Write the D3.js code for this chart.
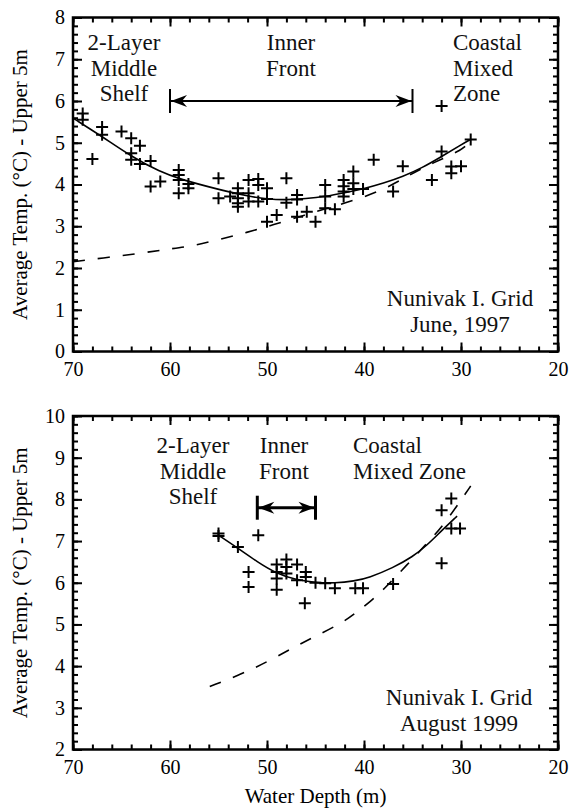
<!DOCTYPE html>
<html>
<head>
<meta charset="utf-8">
<script src="https://cdn.jsdelivr.net/npm/d3@7"></script>
</head>
<body style="margin:0;background:#fff">
<script>
// depth ticks and temperature ticks
const depthTicks = [70, 60, 50, 40, 30, 20]
const depthMinor = d3.range(70, 19, -2)
const juneTicks = [0, 1, 2, 3, 4, 5, 6, 7, 8]
const augTicks = [2, 3, 4, 5, 6, 7, 8, 9, 10]

// June 1997 stations: [depth, temp]
const juneObs = [
  [69.0, 5.70], [69.0, 5.55], [68.0, 4.61], [67.0, 5.38], [67.0, 5.19], [65.0, 5.27],
  [64.0, 5.11], [63.1, 4.93], [64.0, 4.75], [64.0, 4.59], [63.1, 4.49], [62.0, 4.56],
  [62.0, 3.95], [61.0, 4.07], [59.1, 4.35], [59.1, 4.23], [59.1, 4.11], [59.1, 3.79],
  [58.1, 4.01], [58.1, 3.91], [55.0, 4.15], [55.0, 3.67], [53.8, 3.71], [53.0, 3.91],
  [53.0, 3.79], [53.0, 3.67], [53.0, 3.55], [53.0, 3.47], [51.9, 4.11], [51.9, 3.79],
  [51.9, 3.59], [50.9, 4.13], [50.9, 3.99], [50.9, 3.59], [50.0, 3.91], [50.0, 3.65],
  [50.0, 3.11], [49.0, 3.27], [48.0, 4.15], [48.0, 3.56], [46.9, 3.75], [46.9, 3.64],
  [46.9, 3.23], [45.9, 3.35], [45.0, 3.11], [44.0, 3.99], [44.0, 3.71], [44.0, 3.43],
  [43.0, 3.41], [42.1, 4.11], [42.1, 3.96], [42.1, 3.83], [42.1, 3.71], [41.1, 4.31],
  [41.1, 4.03], [41.1, 3.89], [40.1, 3.89], [39.0, 4.59], [37.0, 3.83], [36.0, 4.44],
  [33.0, 4.11], [32.0, 5.88], [32.0, 4.79], [31.0, 4.43], [31.0, 4.27], [30.0, 4.44],
  [29.0, 5.08]
]
const juneFit = [
  [70, 5.59], [67, 5.15], [64, 4.67], [61, 4.30], [59, 4.13], [55, 3.88], [52, 3.72],
  [50, 3.65], [48, 3.63], [46, 3.66], [44, 3.71], [42, 3.80], [40, 3.90], [38, 4.03],
  [36, 4.19], [34, 4.40], [32, 4.67], [30, 4.95], [29, 5.08]
]
const juneModel = [
  [70, 2.15], [66.2, 2.26], [63.1, 2.35], [60.3, 2.45], [57.6, 2.53], [54.8, 2.69],
  [52.1, 2.85], [49.4, 3.03], [46.1, 3.27], [43.5, 3.45], [40.9, 3.63], [38.0, 3.87],
  [35.3, 4.23], [32.9, 4.52], [29.8, 4.83], [29.0, 5.05]
]

// August 1999 stations
const augObs = [
  [55.0, 7.18], [55.0, 7.12], [53.0, 6.86], [50.9, 7.14], [51.9, 6.26], [51.9, 5.90],
  [49.0, 6.44], [49.0, 6.26], [49.0, 6.10], [49.0, 5.83], [48.0, 6.56], [48.0, 6.38],
  [48.0, 6.22], [46.9, 6.44], [46.9, 6.06], [46.0, 6.26], [46.0, 6.14], [46.1, 5.51],
  [45.0, 6.00], [44.0, 5.99], [43.0, 5.87], [40.9, 5.87], [40.1, 5.87], [37.0, 5.97],
  [32.0, 7.74], [32.0, 6.47], [31.0, 8.02], [31.0, 7.30], [30.1, 7.30]
]
const augFit = [
  [55, 7.14], [53, 6.83], [51, 6.50], [49, 6.22], [47, 6.07], [45, 6.00], [43, 5.99],
  [41, 6.04], [39.5, 6.12], [37, 6.36], [35, 6.62], [33.5, 6.90], [32, 7.25], [30.4, 7.60]
]
const augModel = [
  [55.9, 3.51], [52.8, 3.79], [49.9, 4.11], [47.1, 4.47], [44.7, 4.75], [42.1, 5.06],
  [40.9, 5.27], [39.4, 5.54], [38.0, 5.83], [35.6, 6.42], [33.5, 6.95], [31.8, 7.38],
  [29.9, 8.02], [29.0, 8.32]
]

const FONT = 'Liberation Serif'

const svg = d3.select('body').append('svg')
  .attr('width', 571).attr('height', 808)
  .attr('font-family', FONT)
  .style('display', 'block')

const x = d3.scaleLinear().domain([70, 20]).range([73, 558])

function panel(cfg) {
  const y = d3.scaleLinear().domain(cfg.domain).range([cfg.bottom, cfg.top])
  const g = svg.append('g')
  const minorY = d3.range(cfg.domain[0], cfg.domain[1] + 0.01, 0.2).map(v => +v.toFixed(1))

  // bottom axis with labels
  g.append('g').attr('transform', `translate(0,${cfg.bottom})`)
    .call(d3.axisBottom(x).tickValues(depthTicks).tickSize(-9).tickPadding(10))
  g.append('g').attr('transform', `translate(0,${cfg.bottom})`)
    .call(d3.axisBottom(x).tickValues(depthMinor).tickSize(-5).tickFormat(''))
  // top mirror
  g.append('g').attr('transform', `translate(0,${cfg.top})`)
    .call(d3.axisTop(x).tickValues(depthTicks).tickSize(-9).tickFormat(''))
  g.append('g').attr('transform', `translate(0,${cfg.top})`)
    .call(d3.axisTop(x).tickValues(depthMinor).tickSize(-5).tickFormat(''))
  // left axis with labels
  g.append('g').attr('transform', `translate(${x(70)},0)`)
    .call(d3.axisLeft(y).tickValues(cfg.ticks).tickSize(-9).tickPadding(8).tickFormat(d3.format('d')))
  g.append('g').attr('transform', `translate(${x(70)},0)`)
    .call(d3.axisLeft(y).tickValues(minorY).tickSize(-5).tickFormat(''))
  // right mirror
  g.append('g').attr('transform', `translate(${x(20)},0)`)
    .call(d3.axisRight(y).tickValues(cfg.ticks).tickSize(-9).tickFormat(''))
  g.append('g').attr('transform', `translate(${x(20)},0)`)
    .call(d3.axisRight(y).tickValues(minorY).tickSize(-5).tickFormat(''))
  g.selectAll('.domain').remove()
  g.selectAll('.tick text').attr('font-family', FONT).attr('font-size', 20).attr('fill', '#000')
  g.selectAll('.tick line').attr('stroke', '#000').attr('stroke-width', 2)

  g.append('rect')
    .attr('x', x(70)).attr('y', cfg.top)
    .attr('width', x(20) - x(70)).attr('height', cfg.bottom - cfg.top)
    .attr('fill', 'none').attr('stroke', '#000').attr('stroke-width', 2.5)

  const line = d3.line().x(d => x(d[0])).y(d => y(d[1])).curve(d3.curveBasis)
  g.append('path').datum(cfg.model).attr('d', line)
    .attr('fill', 'none').attr('stroke', '#000').attr('stroke-width', 1.6)
    .attr('stroke-dasharray', '12,13')
  g.append('path').datum(cfg.fit).attr('d', line)
    .attr('fill', 'none').attr('stroke', '#000').attr('stroke-width', 1.6)

  g.append('g').selectAll('path').data(cfg.obs).enter().append('path')
    .attr('transform', d => `translate(${x(d[0])},${y(d[1])})`)
    .attr('d', 'M-6,0H6M0,-6V6')
    .attr('stroke', '#000').attr('stroke-width', 2)

  // inner front arrow
  const ay = y(cfg.arrow.temp), x0 = x(cfg.arrow.from), x1 = x(cfg.arrow.to)
  const sw = cfg.arrow.width
  const ag = g.append('g').attr('stroke', '#000').attr('stroke-width', sw)
  ag.append('line').attr('x1', x0).attr('x2', x1).attr('y1', ay).attr('y2', ay)
  ag.append('line').attr('x1', x0).attr('x2', x0).attr('y1', ay - 12).attr('y2', ay + 12)
  ag.append('line').attr('x1', x1).attr('x2', x1).attr('y1', ay - 12).attr('y2', ay + 12)
  const head = 'M0,0L-16,-6L-11,0L-16,6Z'
  g.append('path').attr('d', head).attr('transform', `translate(${x0 + 1},${ay}) rotate(180)`)
  g.append('path').attr('d', head).attr('transform', `translate(${x1 - 1},${ay})`)

  // labels
  cfg.labels.forEach(l => {
    const t = g.append('text').attr('font-size', 23).attr('fill', '#111')
      .attr('text-anchor', l.anchor).attr('x', l.x)
    l.lines.forEach((s, i) => {
      t.append('tspan').attr('x', l.x).attr('y', l.y + i * 25.5).text(s)
    })
  })

  g.append('text')
    .attr('transform', `translate(27,${(cfg.top + cfg.bottom) / 2}) rotate(-90)`)
    .attr('text-anchor', 'middle').attr('font-size', 21)
    .text('Average Temp. (°C) - Upper 5m')
}

panel({
  domain: [0, 8], ticks: juneTicks, top: 17.5, bottom: 351.5,
  obs: juneObs, fit: juneFit, model: juneModel,
  arrow: {from: 60, to: 35, temp: 6.0, width: 2},
  labels: [
    {x: 124, y: 50, anchor: 'middle', lines: ['2-Layer', 'Middle', 'Shelf']},
    {x: 291, y: 50, anchor: 'middle', lines: ['Inner', 'Front']},
    {x: 453, y: 50, anchor: 'start', lines: ['Coastal', 'Mixed', 'Zone']},
    {x: 460, y: 306, anchor: 'middle', lines: ['Nunivak I. Grid', 'June, 1997']}
  ]
})

panel({
  domain: [2, 10], ticks: augTicks, top: 416, bottom: 749.5,
  obs: augObs, fit: augFit, model: augModel,
  arrow: {from: 51, to: 45, temp: 7.8, width: 3},
  labels: [
    {x: 193, y: 453, anchor: 'middle', lines: ['2-Layer', 'Middle', 'Shelf']},
    {x: 284, y: 453, anchor: 'middle', lines: ['Inner', 'Front']},
    {x: 353, y: 453, anchor: 'start', lines: ['Coastal', 'Mixed Zone']},
    {x: 459, y: 705, anchor: 'middle', lines: ['Nunivak I. Grid', 'August 1999']}
  ]
})

svg.append('text')
  .attr('x', (x(70) + x(20)) / 2).attr('y', 803)
  .attr('text-anchor', 'middle').attr('font-size', 21)
  .text('Water Depth (m)')
</script>
</body>
</html>
